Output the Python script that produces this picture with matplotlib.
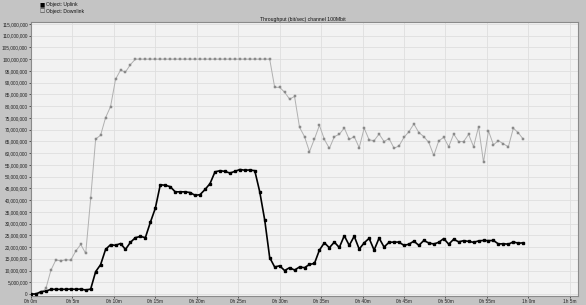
import matplotlib
matplotlib.use("Agg")
import matplotlib.pyplot as plt
from matplotlib.ticker import FixedLocator, FuncFormatter

plt.rcParams["font.family"] = ["Liberation Sans", "DejaVu Sans"]

# sample interval (minutes)
sample_step_min = 0.6

uplink_mbps = [
    0, 0, 1.0, 1.2, 2.0, 2.0, 2.0, 2.0, 2.1, 2.0,
    2.1, 1.7, 2.1, 9.5, 12.5, 19.0, 21.0, 20.7, 21.5, 19.0,
    22.0, 24.0, 24.5, 24.0, 30.5, 36.5, 46.5, 46.3, 45.7, 43.5,
    43.5, 43.5, 43.2, 42.0, 42.3, 44.5, 47.0, 52.0, 52.5, 52.2,
    51.5, 52.2, 53.0, 52.7, 52.8, 52.5, 43.5, 31.5, 15.5, 11.5,
    12.0, 10.0, 11.2, 10.2, 11.5, 11.2, 12.6, 13.0, 18.7, 21.8,
    19.7, 22.1, 19.8, 24.8, 20.7, 24.6, 19.1, 21.8, 23.7, 18.7,
    23.8, 20.0, 22.0, 22.1, 22.1, 20.7, 21.2, 22.5, 20.7, 22.8,
    21.7, 21.3, 22.0, 23.6, 21.2, 23.3, 22.2, 22.7, 22.4, 22.0,
    22.6, 22.8, 22.7, 22.8, 21.3, 21.4, 21.2, 22.2, 21.6, 21.8,
]

downlink_mbps = [
    0, 0, 0.3, 2.4, 10.1, 14.5, 14.1, 14.6, 14.4, 18.3,
    21.1, 17.3, 40.7, 66.0, 67.6, 75.1, 79.8, 91.4, 95.3, 94.5,
    97.7, 100, 100, 100, 100, 100, 100, 100, 100, 100,
    100, 100, 100, 100, 100, 100, 100, 100, 100, 100,
    100, 100, 100, 100, 100, 100, 100, 100, 100, 88.0,
    88.0, 85.9, 83.0, 84.1, 71.0, 67.0, 60.6, 66.0, 71.8, 65.8,
    62.0, 67.0, 68.0, 70.7, 65.8, 67.0, 62.3, 70.6, 65.6, 65.3,
    68.1, 64.9, 66.2, 62.1, 63.0, 66.7, 69.1, 72.4, 68.7, 67.0,
    64.5, 59.0, 65.2, 66.7, 62.7, 68.1, 64.9, 64.9, 68.0, 62.7,
    71.2, 56.1, 69.4, 63.5, 65.3, 63.9, 62.7, 70.6, 68.6, 65.9,
]

x_tick_minutes = list(range(0, 70, 5))
y_tick_values = [v * 5_000_000 for v in range(0, 24)]

title_text = "Throughput (bit/sec) channel 100Mbit"
legend_labels = ["Object: Uplink", "Object: Downlink"]

times = [i * sample_step_min for i in range(len(uplink_mbps))]
uplink = [v * 1e6 for v in uplink_mbps]
downlink = [v * 1e6 for v in downlink_mbps]

W, H = 586, 305
fig = plt.figure(figsize=(W / 100, H / 100), dpi=100)
fig.patch.set_facecolor("#c4c4c4")

left, right, top, bottom = 31, 578, 22, 296
ax = fig.add_axes([left / W, 1 - bottom / H, (right - left) / W, (bottom - top) / H])
ax.set_facecolor("#f2f2f2")

ax.set_xlim(0, 66)
ax.set_ylim(-0.85e6, 115.8e6)

ax.xaxis.set_major_locator(FixedLocator(x_tick_minutes))
ax.yaxis.set_major_locator(FixedLocator(y_tick_values))
ax.xaxis.set_major_formatter(FuncFormatter(lambda v, p: f"{int(v)//60}h {int(v)%60}m"))
ax.yaxis.set_major_formatter(FuncFormatter(lambda v, p: f"{int(round(v)):,}"))

ax.grid(True, which="major", color="#dedede", linewidth=0.6)
ax.set_axisbelow(True)

ax.tick_params(axis="both", labelsize=3.4, length=1.5, width=0.5, colors="#222222", pad=0.8)
for s in ax.spines.values():
    s.set_color("#8a8a8a")
    s.set_linewidth(0.8)

ax.plot(times, downlink, color="#b0b0b0", linewidth=0.7, marker="s",
        markersize=1.5, markerfacecolor="#9a9a9a", markeredgecolor="#707070",
        markeredgewidth=0.3, label=legend_labels[1], zorder=2)
ax.plot(times, uplink, color="#000000", linewidth=1.2, marker="s",
        markersize=1.9, markerfacecolor="#000000", markeredgecolor="#000000",
        label=legend_labels[0], zorder=3)

fig.text(303 / W, 1 - 19 / H, title_text, fontsize=3.7, ha="center", va="center", color="#111111")

# legend in top-left gray area
fig.text(40 / W, 1 - 4.5 / H, "■", fontsize=4, ha="left", va="center", color="black",
         family=["DejaVu Sans"])
fig.text(46 / W, 1 - 4.5 / H, legend_labels[0], fontsize=3.6, ha="left", va="center", color="#111111")
fig.text(40 / W, 1 - 11 / H, "□", fontsize=4, ha="left", va="center", color="#333333",
         family=["DejaVu Sans"])
fig.text(46 / W, 1 - 11 / H, legend_labels[1], fontsize=3.6, ha="left", va="center", color="#111111")

fig.savefig("out.png", dpi=100, facecolor=fig.get_facecolor())
